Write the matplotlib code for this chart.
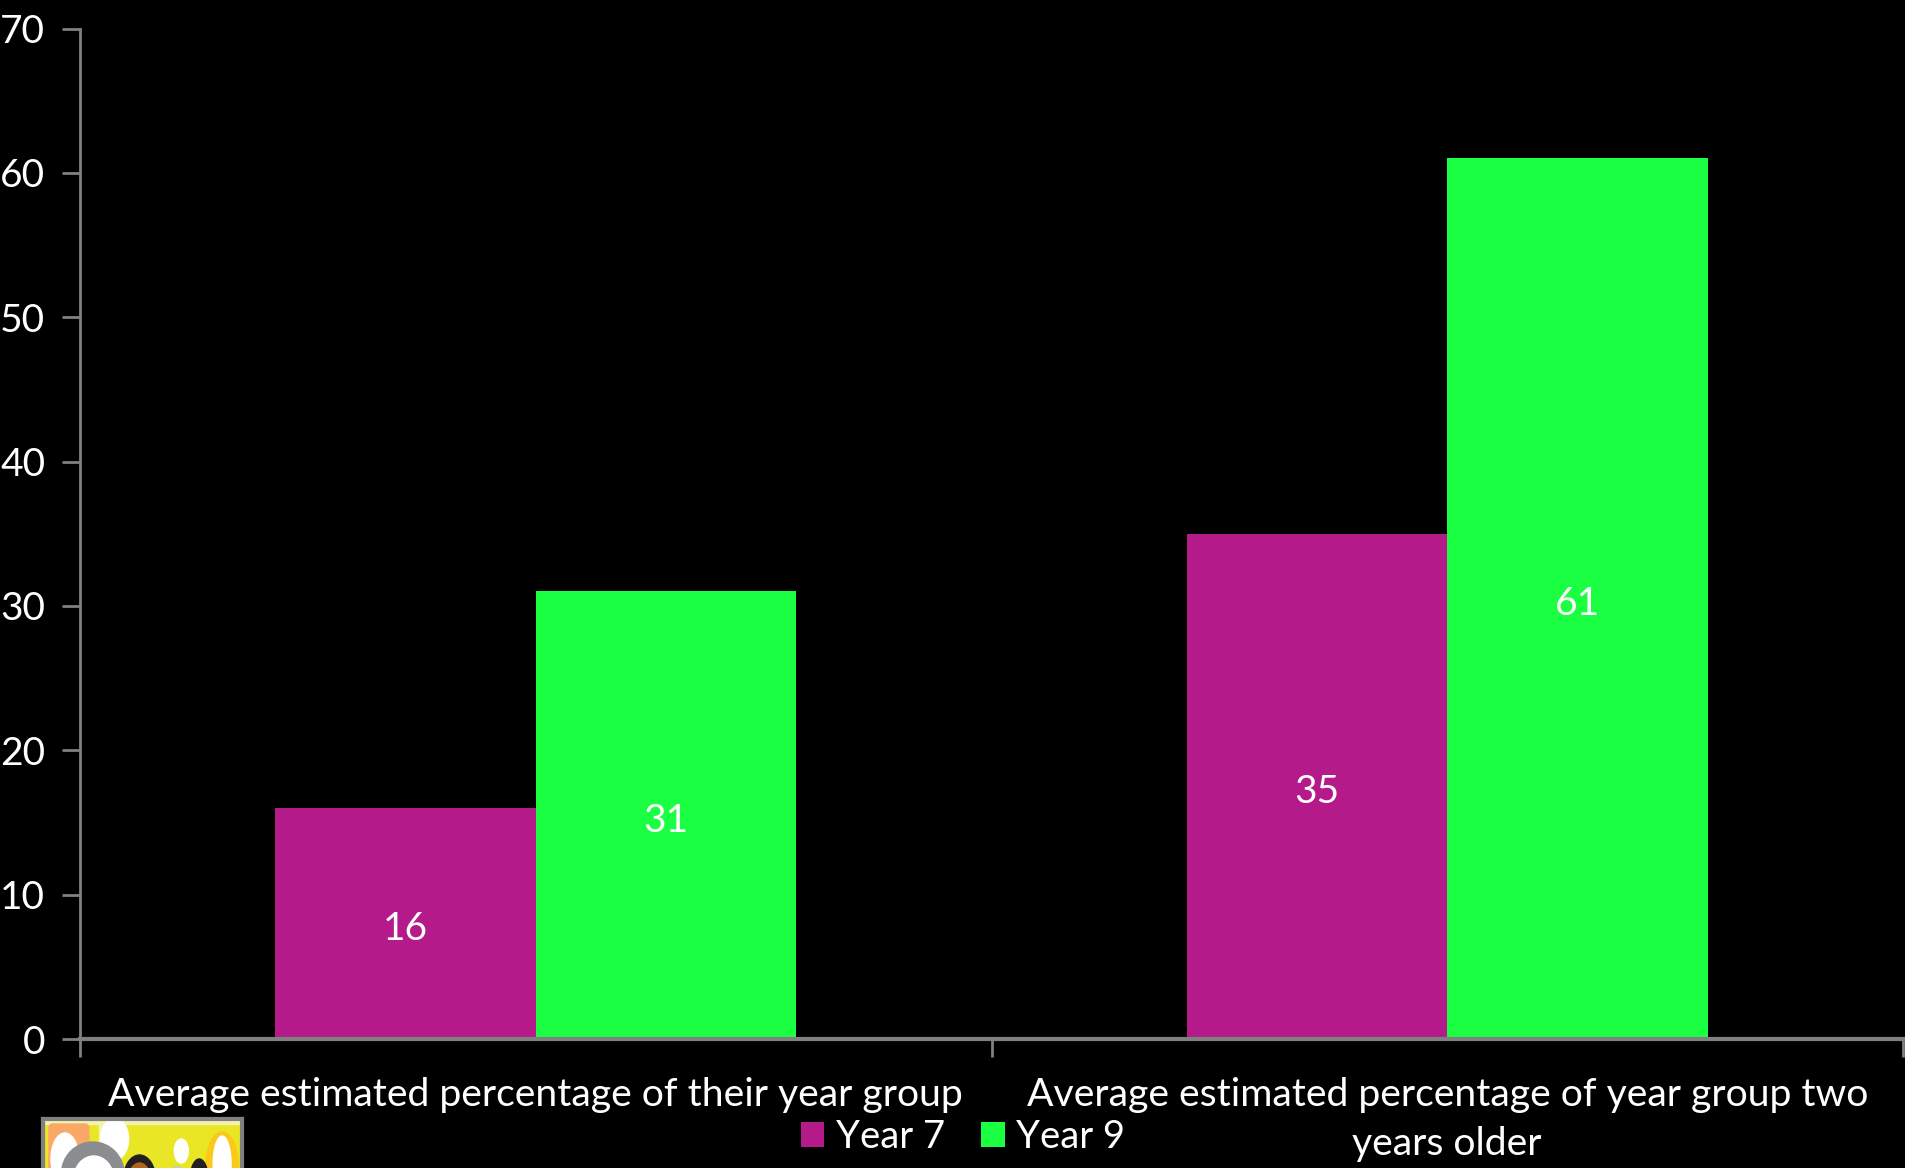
import matplotlib
matplotlib.use('Agg')
import numpy as np
import matplotlib.pyplot as plt
from matplotlib.patches import Rectangle, Ellipse, FancyBboxPatch

categories = ['Average estimated percentage of their year group',
              'Average estimated percentage of year group two\nyears older']
year7 = [16, 35]
year9 = [31, 61]
yticks = [0, 10, 20, 30, 40, 50, 60, 70]

W, H = 1905, 1168
plt.rcParams['font.family'] = ['Lato', 'DejaVu Sans']

fig = plt.figure(figsize=(W / 100, H / 100), dpi=100, facecolor='black')
ax = fig.add_axes([80 / W, 1 - 1039 / H, (1903 - 80) / W, (1039 - 28.5) / H], facecolor='black')

x = np.arange(len(categories))
bw = 0.286
b7 = ax.bar(x - bw / 2, year7, bw, color='#b51a8a', label='Year 7')
b9 = ax.bar(x + bw / 2, year9, bw, color='#1bff42', label='Year 9')

for bars in (b7, b9):
    for b in bars:
        ax.annotate(str(int(b.get_height())), xy=(b.get_x() + b.get_width() / 2, b.get_height() / 2),
                    xytext=(0, -4), textcoords='offset points',
                    color='white', fontsize=28, ha='center', va='center')

ax.set_xlim(-0.5, 1.5)
ax.set_ylim(0, 70)
ax.set_yticks(yticks)
ax.set_xticks([-0.5, 0.5, 1.5])
ax.set_xticklabels([])
ax.tick_params(axis='both', color='#808080', width=2, length=13, labelcolor='white', labelsize=28, pad=12)
for s in ['top', 'right']:
    ax.spines[s].set_visible(False)
for s in ['left', 'bottom']:
    ax.spines[s].set_color('#808080')
    ax.spines[s].set_linewidth(2)
ax.spines['bottom'].set_linewidth(3)

for i, c in enumerate(categories):
    ax.annotate(c, xy=(i, 0), xycoords=('data', 'axes fraction'), xytext=(0, -27.5), textcoords='offset points',
                color='white', fontsize=28.2, ha='center', va='top', linespacing=1.45)

# legend, placed by hand below the axis
leg = fig.legend(handles=[b7, b9], labels=['Year 7', 'Year 9'], loc='center', bbox_to_anchor=(963 / W, 1 - 1137 / H),
                 ncol=2, frameon=False, fontsize=27.5, labelcolor='white', handlelength=0.62, handleheight=0.62,
                 handletextpad=0.3, columnspacing=0.95)

# logo, cropped by the bottom edge
logo = fig.add_axes([43 / W, -11 / H, (242 - 43) / W, 60 / H], facecolor='#e9e625')
logo.set_xlim(0, 200)
logo.set_ylim(60, 0)
logo.set_xticks([])
logo.set_yticks([])
for s in logo.spines.values():
    s.set_color('#808080')
    s.set_linewidth(3)
logo.add_patch(Rectangle((0, 0), 200, 5, color='#f3f2b0'))
logo.add_patch(FancyBboxPatch((10, 9), 32, 60, boxstyle='round,pad=4', color='#f9a868'))
logo.add_patch(Ellipse((22, 40), 28, 52, color='white'))
logo.add_patch(Rectangle((56, 3), 6, 30, color='#f3f2b0'))
logo.add_patch(Ellipse((72, 20), 28, 42, color='white'))
logo.add_patch(Ellipse((180, 45), 32, 64, color='#fbc918'))
logo.add_patch(Ellipse((180, 45), 18, 56, color='white'))
logo.add_patch(Ellipse((139, 32), 14, 24, color='white'))
logo.add_patch(Ellipse((135, 65), 24, 34, color='#c8c8d8'))
logo.add_patch(Ellipse((50, 55), 63, 64, color='#8b8d90'))
logo.add_patch(Ellipse((51, 60), 40, 46, color='white'))
logo.add_patch(Ellipse((97, 60), 32, 48, color='#231f20'))
logo.add_patch(Ellipse((97, 64), 24, 40, color='#b3641b'))
logo.add_patch(Ellipse((157, 60), 18, 40, color='#231f20'))

fig.savefig('out.png', dpi=100, facecolor='black')
